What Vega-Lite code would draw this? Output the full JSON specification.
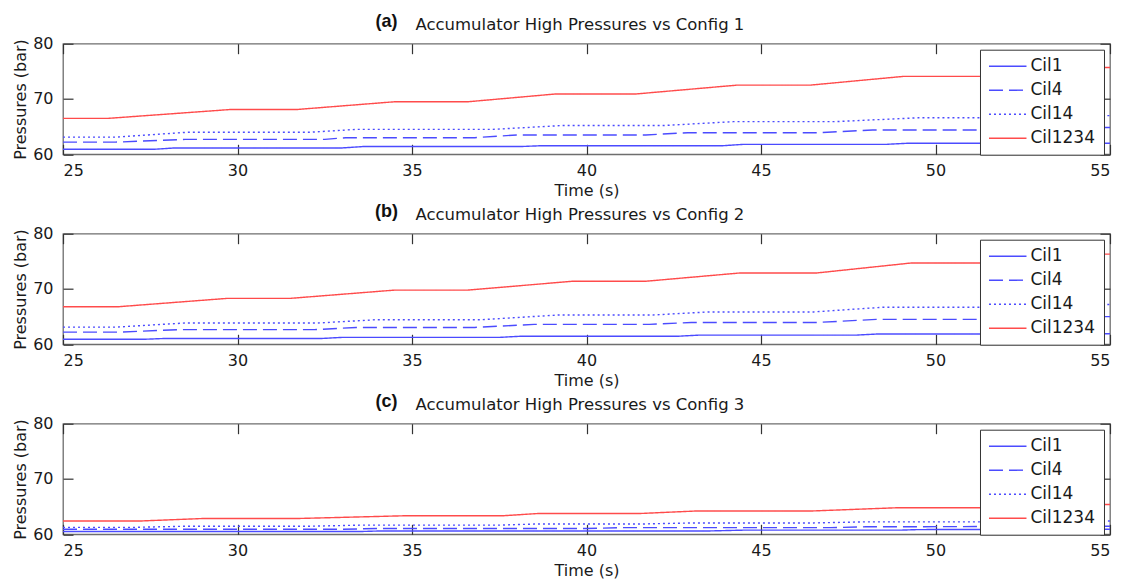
{
  "$schema": "https://vega.github.io/schema/vega-lite/v6.json",
  "background": "white",
  "padding": {"left": 11, "top": 11.7, "right": 5, "bottom": 0},
  "bounds": "flush",
  "spacing": 79,
  "config": {
    "view": {"stroke": "#6e6e6e", "strokeWidth": 1.3},
    "axis": {
      "labelFont": "DejaVu Sans", "labelFontSize": 16, "labelColor": "#1a1a1a",
      "titleFont": "DejaVu Sans", "titleFontSize": 16, "titleFontWeight": "normal", "titleColor": "#1a1a1a",
      "grid": false, "domain": false, "tickColor": "#333333", "tickSize": -10, "tickWidth": 1.2
    },
    "legend": {
      "orient": "top-right", "offset": 6, "padding": 8,
      "strokeColor": "#333333", "fillColor": "white",
      "labelFont": "DejaVu Sans", "labelFontSize": 17, "labelColor": "#1a1a1a",
      "symbolType": "M-2.5,0H2.5", "symbolSize": 225, "symbolStrokeWidth": 1.4,
      "symbolOffset": 11.25, "labelOffset": 14.2, "rowPadding": 6
    },
    "title": {"font": "Liberation Sans", "fontWeight": "bold", "fontSize": 18, "color": "#111111", "frame": "group", "anchor": "middle", "baseline": "alphabetic", "offset": -14.5},
    "line": {"strokeWidth": 1.4}
  },
  "datasets": {
    "a": [
      {"s":"Cil1","t":25,"p":60.9},{"s":"Cil1","t":27.6,"p":60.9},{"s":"Cil1","t":28.2,"p":61.15},{"s":"Cil1","t":33.0,"p":61.15},{"s":"Cil1","t":33.6,"p":61.4},{"s":"Cil1","t":38.1,"p":61.4},{"s":"Cil1","t":38.7,"p":61.55},{"s":"Cil1","t":43.9,"p":61.55},{"s":"Cil1","t":44.5,"p":61.8},{"s":"Cil1","t":48.6,"p":61.8},{"s":"Cil1","t":49.2,"p":62.0},{"s":"Cil1","t":55,"p":62.0},
      {"s":"Cil4","t":25,"p":62.2},{"s":"Cil4","t":26.5,"p":62.2},{"s":"Cil4","t":28.5,"p":62.7},{"s":"Cil4","t":32.5,"p":62.7},{"s":"Cil4","t":33.1,"p":63.0},{"s":"Cil4","t":36.8,"p":63.0},{"s":"Cil4","t":38.0,"p":63.5},{"s":"Cil4","t":41.7,"p":63.5},{"s":"Cil4","t":42.9,"p":63.9},{"s":"Cil4","t":46.6,"p":63.9},{"s":"Cil4","t":48.2,"p":64.4},{"s":"Cil4","t":52.0,"p":64.4},{"s":"Cil4","t":53.5,"p":64.85},{"s":"Cil4","t":55,"p":64.85},
      {"s":"Cil14","t":25,"p":63.1},{"s":"Cil14","t":26.5,"p":63.1},{"s":"Cil14","t":28.6,"p":64.0},{"s":"Cil14","t":32.1,"p":64.0},{"s":"Cil14","t":33.4,"p":64.5},{"s":"Cil14","t":37.3,"p":64.5},{"s":"Cil14","t":39.3,"p":65.2},{"s":"Cil14","t":42.2,"p":65.2},{"s":"Cil14","t":44.2,"p":65.9},{"s":"Cil14","t":47.1,"p":65.9},{"s":"Cil14","t":49.5,"p":66.6},{"s":"Cil14","t":52.5,"p":66.6},{"s":"Cil14","t":54,"p":67.0},{"s":"Cil14","t":55,"p":67.0},
      {"s":"Cil1234","t":25,"p":66.5},{"s":"Cil1234","t":26.3,"p":66.5},{"s":"Cil1234","t":29.8,"p":68.1},{"s":"Cil1234","t":31.7,"p":68.1},{"s":"Cil1234","t":34.5,"p":69.5},{"s":"Cil1234","t":36.6,"p":69.5},{"s":"Cil1234","t":39.1,"p":70.9},{"s":"Cil1234","t":41.4,"p":70.9},{"s":"Cil1234","t":44.3,"p":72.5},{"s":"Cil1234","t":46.4,"p":72.5},{"s":"Cil1234","t":49.1,"p":74.1},{"s":"Cil1234","t":51.5,"p":74.1},{"s":"Cil1234","t":54.2,"p":75.7},{"s":"Cil1234","t":55,"p":75.7}
    ],
    "b": [
      {"s":"Cil1","t":25,"p":60.9},{"s":"Cil1","t":27.3,"p":60.9},{"s":"Cil1","t":27.9,"p":61.05},{"s":"Cil1","t":32.4,"p":61.05},{"s":"Cil1","t":33.0,"p":61.25},{"s":"Cil1","t":37.5,"p":61.25},{"s":"Cil1","t":38.1,"p":61.45},{"s":"Cil1","t":42.6,"p":61.45},{"s":"Cil1","t":43.2,"p":61.65},{"s":"Cil1","t":47.7,"p":61.65},{"s":"Cil1","t":48.3,"p":61.85},{"s":"Cil1","t":55,"p":61.9},
      {"s":"Cil4","t":25,"p":62.2},{"s":"Cil4","t":26.6,"p":62.2},{"s":"Cil4","t":28.3,"p":62.65},{"s":"Cil4","t":32.2,"p":62.65},{"s":"Cil4","t":33.4,"p":63.05},{"s":"Cil4","t":36.8,"p":63.05},{"s":"Cil4","t":38.5,"p":63.6},{"s":"Cil4","t":41.8,"p":63.6},{"s":"Cil4","t":43.0,"p":63.95},{"s":"Cil4","t":46.6,"p":63.95},{"s":"Cil4","t":48.3,"p":64.5},{"s":"Cil4","t":52.3,"p":64.5},{"s":"Cil4","t":53.5,"p":65.0},{"s":"Cil4","t":55,"p":65.0},
      {"s":"Cil14","t":25,"p":63.1},{"s":"Cil14","t":26.5,"p":63.1},{"s":"Cil14","t":28.5,"p":63.85},{"s":"Cil14","t":32.3,"p":63.85},{"s":"Cil14","t":34.0,"p":64.45},{"s":"Cil14","t":37.0,"p":64.45},{"s":"Cil14","t":39.2,"p":65.3},{"s":"Cil14","t":41.9,"p":65.3},{"s":"Cil14","t":43.5,"p":65.85},{"s":"Cil14","t":46.5,"p":65.85},{"s":"Cil14","t":48.5,"p":66.7},{"s":"Cil14","t":52.3,"p":66.7},{"s":"Cil14","t":54,"p":67.2},{"s":"Cil14","t":55,"p":67.2},
      {"s":"Cil1234","t":25,"p":66.8},{"s":"Cil1234","t":26.6,"p":66.8},{"s":"Cil1234","t":29.7,"p":68.3},{"s":"Cil1234","t":31.5,"p":68.3},{"s":"Cil1234","t":34.5,"p":69.8},{"s":"Cil1234","t":36.6,"p":69.8},{"s":"Cil1234","t":39.6,"p":71.4},{"s":"Cil1234","t":41.7,"p":71.4},{"s":"Cil1234","t":44.4,"p":72.9},{"s":"Cil1234","t":46.6,"p":72.9},{"s":"Cil1234","t":49.3,"p":74.7},{"s":"Cil1234","t":51.5,"p":74.7},{"s":"Cil1234","t":54.3,"p":76.3},{"s":"Cil1234","t":55,"p":76.3}
    ],
    "c": [
      {"s":"Cil1","t":25,"p":60.5},{"s":"Cil1","t":33.5,"p":60.5},{"s":"Cil1","t":34.1,"p":60.6},{"s":"Cil1","t":43.5,"p":60.6},{"s":"Cil1","t":44.5,"p":60.75},{"s":"Cil1","t":49.0,"p":60.75},{"s":"Cil1","t":49.5,"p":60.85},{"s":"Cil1","t":55,"p":60.9},
      {"s":"Cil4","t":25,"p":60.9},{"s":"Cil4","t":33.0,"p":60.9},{"s":"Cil4","t":34.0,"p":61.05},{"s":"Cil4","t":40.0,"p":61.05},{"s":"Cil4","t":41.0,"p":61.2},{"s":"Cil4","t":47.0,"p":61.2},{"s":"Cil4","t":48.0,"p":61.35},{"s":"Cil4","t":55,"p":61.45},
      {"s":"Cil14","t":25,"p":61.25},{"s":"Cil14","t":27,"p":61.25},{"s":"Cil14","t":28.5,"p":61.45},{"s":"Cil14","t":32,"p":61.45},{"s":"Cil14","t":33.5,"p":61.65},{"s":"Cil14","t":37.5,"p":61.65},{"s":"Cil14","t":38.5,"p":61.85},{"s":"Cil14","t":41.5,"p":61.85},{"s":"Cil14","t":43,"p":62.05},{"s":"Cil14","t":46.5,"p":62.05},{"s":"Cil14","t":48,"p":62.25},{"s":"Cil14","t":52,"p":62.25},{"s":"Cil14","t":53.5,"p":62.4},{"s":"Cil14","t":55,"p":62.4},
      {"s":"Cil1234","t":25,"p":62.4},{"s":"Cil1234","t":27.2,"p":62.4},{"s":"Cil1234","t":29.0,"p":62.85},{"s":"Cil1234","t":31.7,"p":62.85},{"s":"Cil1234","t":34.8,"p":63.35},{"s":"Cil1234","t":37.6,"p":63.35},{"s":"Cil1234","t":38.6,"p":63.75},{"s":"Cil1234","t":41.5,"p":63.75},{"s":"Cil1234","t":43.1,"p":64.2},{"s":"Cil1234","t":46.4,"p":64.2},{"s":"Cil1234","t":48.9,"p":64.8},{"s":"Cil1234","t":52.0,"p":64.8},{"s":"Cil1234","t":54.5,"p":65.4},{"s":"Cil1234","t":55,"p":65.4}
    ]
  },
  "vconcat": [
    {
      "data": {"name": "a"},
      "width": 1047, "height": 110.6,
      "title": {"text": "(a)", "dx": -200},
      "layer": [
        {
          "mark": {"type": "line"},
          "encoding": {
            "x": {"field": "t", "type": "quantitative", "scale": {"domain": [25, 55], "nice": false, "zero": false}, "axis": {"values": [25,30,35,40,45,50,55], "title": "Time (s)", "labelPadding": 18.5, "titlePadding": 4}},
            "y": {"field": "p", "type": "quantitative", "scale": {"domain": [60, 80], "nice": false, "zero": false}, "axis": {"values": [60,70,80], "title": "Pressures (bar)", "labelPadding": 20, "titlePadding": 4}},
            "color": {"field": "s", "type": "nominal", "scale": {"domain": ["Cil1","Cil4","Cil14","Cil1234"], "range": ["#4b4bff","#4b4bff","#4b4bff","#ff4b4b"]}, "legend": {"title": null}},
            "strokeDash": {"field": "s", "type": "nominal", "scale": {"domain": ["Cil1","Cil4","Cil14","Cil1234"], "range": [[1,0],[14,6],[2,3],[1,0]]}, "legend": {"title": null}}
          }
        },
        {
          "mark": {"type": "point", "opacity": 0},
          "encoding": {
            "x": {"field": "t", "type": "quantitative", "scale": {"domain": [25, 55], "nice": false, "zero": false}, "axis": {"orient": "top", "labels": false, "values": [25,30,35,40,45,50,55], "title": "Accumulator High Pressures vs Config 1", "titleX": 352, "titleY": -14, "titleAlign": "left", "titleBaseline": "alphabetic", "titleFontSize": 16.5}},
            "y": {"field": "p", "type": "quantitative", "scale": {"domain": [60, 80], "nice": false, "zero": false}, "axis": {"orient": "right", "labels": false, "values": [60,70,80], "title": null}}
          }
        }
      ],
      "resolve": {"axis": {"x": "independent", "y": "independent"}}
    },
    {
      "data": {"name": "b"},
      "width": 1047, "height": 110.6,
      "title": {"text": "(b)", "dx": -200},
      "layer": [
        {
          "mark": {"type": "line"},
          "encoding": {
            "x": {"field": "t", "type": "quantitative", "scale": {"domain": [25, 55], "nice": false, "zero": false}, "axis": {"values": [25,30,35,40,45,50,55], "title": "Time (s)", "labelPadding": 18.5, "titlePadding": 4}},
            "y": {"field": "p", "type": "quantitative", "scale": {"domain": [60, 80], "nice": false, "zero": false}, "axis": {"values": [60,70,80], "title": "Pressures (bar)", "labelPadding": 20, "titlePadding": 4}},
            "color": {"field": "s", "type": "nominal", "scale": {"domain": ["Cil1","Cil4","Cil14","Cil1234"], "range": ["#4b4bff","#4b4bff","#4b4bff","#ff4b4b"]}, "legend": {"title": null}},
            "strokeDash": {"field": "s", "type": "nominal", "scale": {"domain": ["Cil1","Cil4","Cil14","Cil1234"], "range": [[1,0],[14,6],[2,3],[1,0]]}, "legend": {"title": null}}
          }
        },
        {
          "mark": {"type": "point", "opacity": 0},
          "encoding": {
            "x": {"field": "t", "type": "quantitative", "scale": {"domain": [25, 55], "nice": false, "zero": false}, "axis": {"orient": "top", "labels": false, "values": [25,30,35,40,45,50,55], "title": "Accumulator High Pressures vs Config 2", "titleX": 352, "titleY": -14, "titleAlign": "left", "titleBaseline": "alphabetic", "titleFontSize": 16.5}},
            "y": {"field": "p", "type": "quantitative", "scale": {"domain": [60, 80], "nice": false, "zero": false}, "axis": {"orient": "right", "labels": false, "values": [60,70,80], "title": null}}
          }
        }
      ],
      "resolve": {"axis": {"x": "independent", "y": "independent"}}
    },
    {
      "data": {"name": "c"},
      "width": 1047, "height": 110.6,
      "title": {"text": "(c)", "dx": -200},
      "layer": [
        {
          "mark": {"type": "line"},
          "encoding": {
            "x": {"field": "t", "type": "quantitative", "scale": {"domain": [25, 55], "nice": false, "zero": false}, "axis": {"values": [25,30,35,40,45,50,55], "title": "Time (s)", "labelPadding": 18.5, "titlePadding": 4}},
            "y": {"field": "p", "type": "quantitative", "scale": {"domain": [60, 80], "nice": false, "zero": false}, "axis": {"values": [60,70,80], "title": "Pressures (bar)", "labelPadding": 20, "titlePadding": 4}},
            "color": {"field": "s", "type": "nominal", "scale": {"domain": ["Cil1","Cil4","Cil14","Cil1234"], "range": ["#4b4bff","#4b4bff","#4b4bff","#ff4b4b"]}, "legend": {"title": null}},
            "strokeDash": {"field": "s", "type": "nominal", "scale": {"domain": ["Cil1","Cil4","Cil14","Cil1234"], "range": [[1,0],[14,6],[2,3],[1,0]]}, "legend": {"title": null}}
          }
        },
        {
          "mark": {"type": "point", "opacity": 0},
          "encoding": {
            "x": {"field": "t", "type": "quantitative", "scale": {"domain": [25, 55], "nice": false, "zero": false}, "axis": {"orient": "top", "labels": false, "values": [25,30,35,40,45,50,55], "title": "Accumulator High Pressures vs Config 3", "titleX": 352, "titleY": -14, "titleAlign": "left", "titleBaseline": "alphabetic", "titleFontSize": 16.5}},
            "y": {"field": "p", "type": "quantitative", "scale": {"domain": [60, 80], "nice": false, "zero": false}, "axis": {"orient": "right", "labels": false, "values": [60,70,80], "title": null}}
          }
        }
      ],
      "resolve": {"axis": {"x": "independent", "y": "independent"}}
    }
  ],
  "resolve": {
    "scale": {"x": "independent", "y": "independent", "color": "independent", "strokeDash": "independent"},
    "legend": {"color": "independent", "strokeDash": "independent"}
  }
}
